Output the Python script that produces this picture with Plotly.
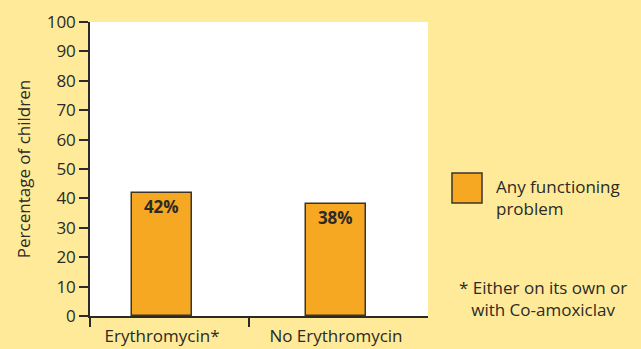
import plotly.graph_objects as go

categories = ["Erythromycin*", "No Erythromycin"]
values = [42, 38]
value_labels = ["42%", "38%"]
y_ticks = [0, 10, 20, 30, 40, 50, 60, 70, 80, 90, 100]
legend_label = "Any functioning<br>problem"
footnote = "* Either on its own or<br>with Co-amoxiclav"

BG = "#FEEA99"
BAR = "#F7A823"
DARK = "#2b2a26"
FONT = "Open Sans"
FS = 17

xpos = list(range(len(categories)))

fig = go.Figure()
fig.add_trace(go.Bar(
    x=xpos, y=values, width=0.35,
    marker=dict(color=BAR, line=dict(color="#3d3428", width=1.5)),
    text=value_labels, textposition="inside", insidetextanchor="end",
    textfont=dict(family=FONT, size=FS, color=DARK, weight="bold"),
    textangle=0, showlegend=False, hoverinfo="skip",
))
# invisible trace on overlay axis to carry the divider ticks
fig.add_trace(go.Scatter(x=[0], y=[0], xaxis="x2", mode="markers",
                         marker=dict(opacity=0), showlegend=False, hoverinfo="skip"))

xr = [-0.414, 1.529]
fig.update_layout(
    width=641, height=349,
    margin=dict(l=90, r=213, t=22, b=33, autoexpand=False),
    paper_bgcolor=BG, plot_bgcolor="white",
    font=dict(family=FONT, size=FS, color=DARK),
    xaxis=dict(range=xr, tickvals=xpos, ticktext=categories, ticks="",
               ticklabelstandoff=4, automargin=False,
               showline=True, linecolor=DARK, linewidth=1.5, showgrid=False,
               zeroline=False, tickfont=dict(size=FS, color=DARK)),
    xaxis2=dict(range=xr, overlaying="x", anchor="y", tickvals=[xr[0], 0.5],
                ticks="outside", ticklen=10, tickwidth=1.5, tickcolor=DARK,
                showticklabels=False, showline=False, showgrid=False, zeroline=False,
                automargin=False),
    yaxis=dict(range=[0, 100], tickvals=y_ticks, ticks="outside", ticklen=9,
               tickwidth=1.5, tickcolor=DARK, showline=True, linecolor=DARK,
               linewidth=1.5, showgrid=False, zeroline=False, automargin=False,
               tickfont=dict(size=FS, color=DARK),
               title=dict(text="Percentage of children", font=dict(size=FS, color=DARK),
                          standoff=12)),
    bargap=0,
)

# legend swatch and text
fig.add_shape(type="rect", xref="paper", yref="paper",
              x0=(452 - 90) / 338, x1=(482 - 90) / 338,
              y0=(316 - 203) / 294, y1=(316 - 173) / 294,
              fillcolor=BAR, line=dict(color="#3d3428", width=1.5))
fig.add_annotation(xref="paper", yref="paper", x=(494 - 90) / 338, y=(316 - 197) / 294,
                   text=legend_label, showarrow=False, xanchor="left", yanchor="middle",
                   align="left", font=dict(size=FS, color=DARK))
fig.add_annotation(xref="paper", yref="paper", x=(543 - 90) / 338, y=(316 - 298) / 294,
                   text=footnote, showarrow=False, xanchor="center", yanchor="middle",
                   align="center", font=dict(size=FS, color=DARK))

fig.write_html("out.html")
